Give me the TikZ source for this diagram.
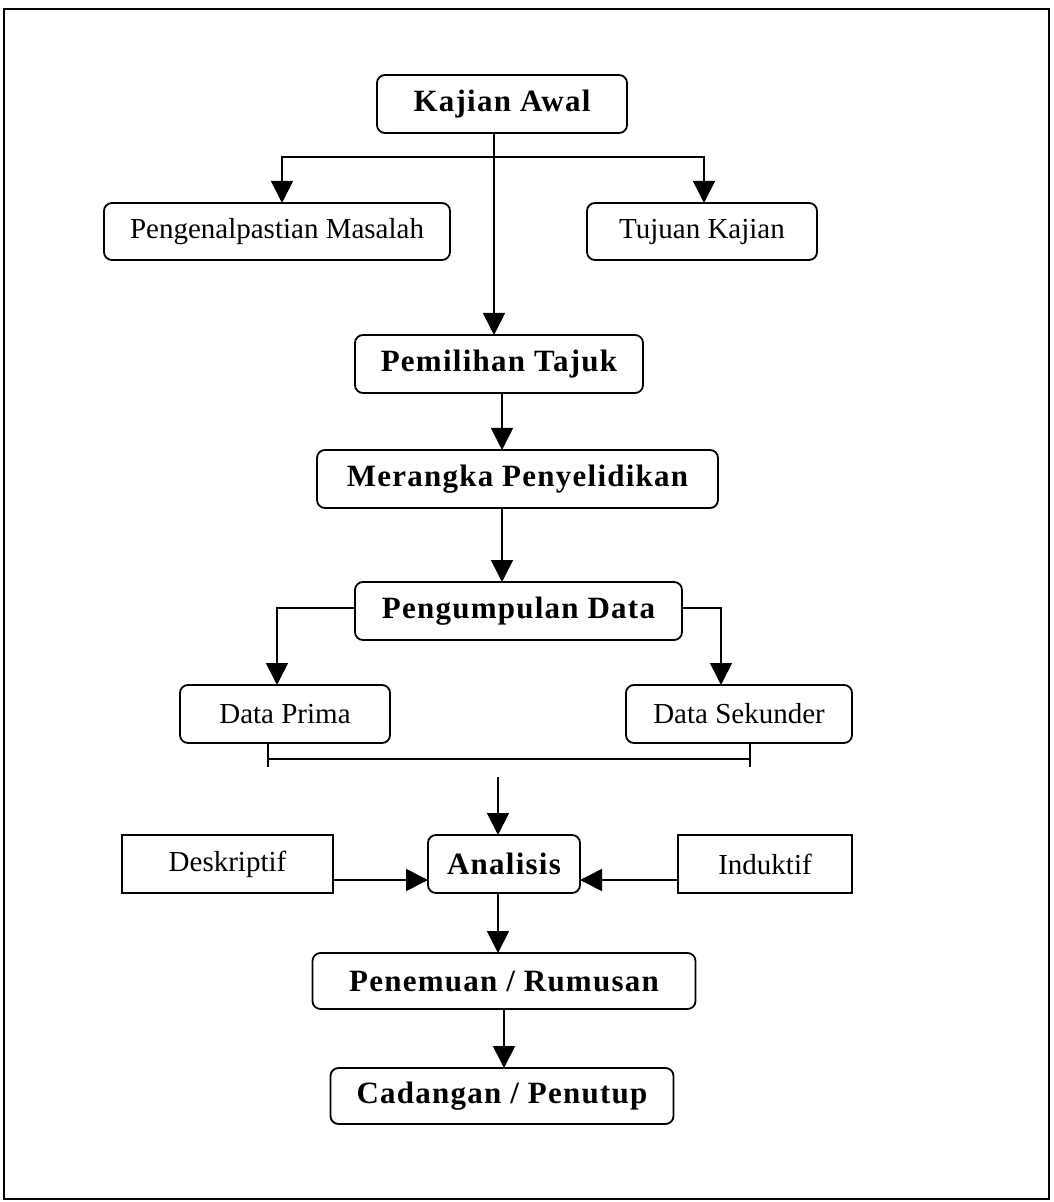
\documentclass[tikz,border=0pt]{standalone}
\usepackage{fontspec}
\setmainfont{Liberation Serif}
\usetikzlibrary{arrows.meta, positioning}

\begin{document}
\begin{tikzpicture}[
            x = 0.5pt, y = -0.5pt, % one unit is one pixel of the scan
            > = {Triangle[length=11pt, width=11pt]}, % arrow head style
            line width = 0.8pt % line style
        ]

        \tikzstyle{stage}=[
            draw = black,
            line width = 0.9pt,
            rounded corners = 4pt,
            inner sep = 0pt,
            outer sep = 0pt,
            minimum height = 29pt,
            font = \fontsize{15.5}{18}\selectfont\bfseries\addfontfeatures{LetterSpace=4}
        ]
        \tikzstyle{sub}=[stage, font = \fontsize{14.5}{17}\selectfont]
        \tikzstyle{method}=[sub, sharp corners]

        \useasboundingbox (0,0) rectangle (1053,1202);
        \draw[line width = 1pt] (4,9) rectangle (1049,1199);

        \node[stage, minimum width=125pt] (kajian) at (502,104) {Kajian Awal};
        \node[sub, minimum width=173pt, minimum height=28.5pt] (pengenal) [below=35pt of kajian, xshift=-112.5pt] {Pengenalpastian Masalah};
        \node[sub, minimum width=115pt, minimum height=28.5pt] (tujuan) [below=35pt of kajian, xshift=100pt] {Tujuan Kajian};
        \node[stage, minimum width=144pt] (pemilihan) [below=101pt of kajian, xshift=-1.5pt] {Pemilihan Tajuk};
        \node[stage, minimum width=200.5pt] (merangka) [below=28.5pt of pemilihan, xshift=9.25pt] {Merangka Penyelidikan};
        \node[stage, minimum width=163.5pt] (pengumpulan) [below=37pt of merangka, xshift=0.5pt] {Pengumpulan Data};
        \node[sub, minimum width=105pt] (prima) [below=22.5pt of pengumpulan, xshift=-116.75pt] {Data Prima};
        \node[sub, minimum width=113pt] (sekunder) [below=22.5pt of pengumpulan, xshift=110.25pt] {Data Sekunder};
        \node[stage, minimum width=76pt] (analisis) [below=97.5pt of pengumpulan, xshift=-7.25pt] {Analisis};
        \node[method, minimum width=105.5pt] (deskriptif) [left=47.5pt of analisis] {Deskriptif};
        \node[method, minimum width=87pt] (induktif) [right=49pt of analisis] {Induktif};
        \node[stage, minimum width=191.5pt, minimum height=28pt] (penemuan) [below=30pt of analisis] {Penemuan / Rumusan};
        \node[stage, minimum width=171.5pt, minimum height=28pt] (cadangan) [below=29.5pt of penemuan, xshift=-1pt] {Cadangan / Penutup};

        \coordinate (split) at ([xshift=-4pt, yshift=-12pt]kajian.south);
        \coordinate (join) at ([xshift=-3pt, yshift=29pt]analisis.north);

        \draw[->] ([xshift=-4pt]kajian.south) -- ([xshift=-4pt]kajian.south |- pemilihan.north);
        \draw[->] (split) -| ([xshift=2.5pt]pengenal.north);
        \draw[->] (split) -| ([xshift=1pt]tujuan.north);
        \draw[->] ([xshift=1.5pt]pemilihan.south) -- ([xshift=1.5pt]pemilihan.south |- merangka.north);
        \draw[->] ([xshift=-7.75pt]merangka.south) -- ([xshift=-7.75pt]merangka.south |- pengumpulan.north);
        \draw[->] ([yshift=1.5pt]pengumpulan.west) -| ([xshift=-4pt]prima.north);
        \draw[->] ([yshift=1.5pt]pengumpulan.east) -| ([xshift=-9pt]sekunder.north);

        % bracket joining both data boxes
        \draw ([xshift=-8.5pt]prima.south) -- ++(0,24);
        \draw ([xshift=5.5pt]sekunder.south) -- ++(0,24);
        \draw ([xshift=-8.5pt, yshift=-8pt]prima.south) -- ([xshift=5.5pt, yshift=-8pt]sekunder.south);

        \draw[->] (join) -- ([xshift=-3pt]analisis.north);
        \draw[->] ([yshift=-8pt]deskriptif.east) -- ([yshift=-8pt]deskriptif.east -| analisis.west);
        \draw[->] ([yshift=-8pt]induktif.west) -- ([yshift=-8pt]induktif.west -| analisis.east);
        \draw[->] ([xshift=-3pt]analisis.south) -- ([xshift=-3pt]analisis.south |- penemuan.north);
        \draw[->] (penemuan.south) -- (penemuan.south |- cadangan.north);

    \end{tikzpicture}
\end{document}
